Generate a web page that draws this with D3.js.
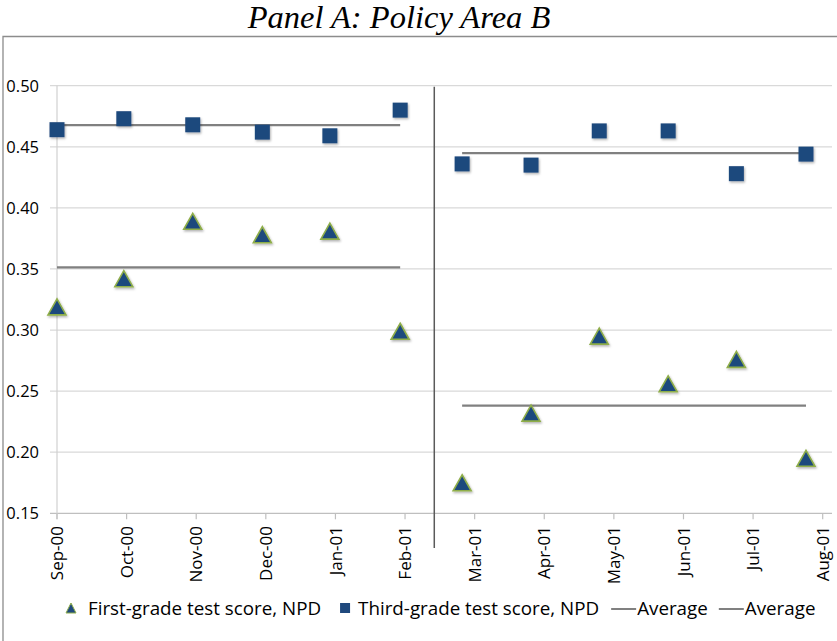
<!DOCTYPE html>
<html>
<head lang="en">
    <meta charset="UTF-8">
    <title>Panel A: Policy Area B</title>
    <script type="text/javascript" src="https://cdn.jsdelivr.net/npm/d3@7/dist/d3.min.js"></script>
    <style>
        body { margin: 0; background: #fff; }
        text { font-family: "Open Sans", sans-serif; fill: #000; }
    </style>
</head>
<body>
<div class="holder"></div>

<script>
    // month tick labels (evenly spaced, one per month)
    var months = ["Sep-00", "Oct-00", "Nov-00", "Dec-00", "Jan-01", "Feb-01",
                  "Mar-01", "Apr-01", "May-01", "Jun-01", "Jul-01", "Aug-01"];
    // where each observation falls, in month units from Sep-00
    var obsPos = [0.0, 0.96, 1.95, 2.95, 3.92, 4.93, 5.82, 6.81, 7.79, 8.78, 9.76, 10.76];
    var firstGrade = [0.319, 0.342, 0.389, 0.378, 0.381, 0.299, 0.175, 0.232, 0.295, 0.256, 0.276, 0.195];
    var thirdGrade = [0.464, 0.473, 0.468, 0.462, 0.459, 0.480, 0.436, 0.435, 0.463, 0.463, 0.428, 0.444];
    var periods = [[0, 6], [6, 12]];      // index ranges before / after the break
    var breakPos = 5.42;                   // policy change
    var yTicks = [0.15, 0.20, 0.25, 0.30, 0.35, 0.40, 0.45, 0.50];
    var legendItems = [
        {type: "tri", label: "First-grade test score, NPD"},
        {type: "sq", label: "Third-grade test score, NPD"},
        {type: "line", label: "Average"},
        {type: "line", label: "Average"}
    ];

    var W = 837, H = 641;
    var blue = "#1F497D", olive = "#8FAE4A", gray = "#808080";

    var svg = d3.select(".holder")
            .append("svg")
            .attr("width", W)
            .attr("height", H);

    var defs = svg.append("defs");
    var f = defs.append("filter").attr("id", "shadow")
            .attr("x", "-40%").attr("y", "-40%").attr("width", "180%").attr("height", "180%");
    f.append("feDropShadow").attr("dx", 1).attr("dy", 1.5).attr("stdDeviation", 1.2)
            .attr("flood-color", "#000").attr("flood-opacity", 0.3);

    // title
    svg.append("text")
            .attr("x", 399).attr("y", 28)
            .attr("text-anchor", "middle")
            .style("font-family", "'Liberation Serif', 'Times New Roman', serif")
            .style("font-style", "italic")
            .style("font-size", "32.5px")
            .text("Panel A: Policy Area B");

    // chart frame
    svg.append("path")
            .attr("d", "M3," + H + "V36.5H" + W)
            .attr("fill", "none")
            .attr("stroke", "#8c8c8c")
            .attr("stroke-width", 1.3);

    var x = d3.scaleLinear().domain([0, 11]).range([57, 822.7]);
    var y = d3.scaleLinear().domain([0.15, 0.50]).range([513.3, 85.7]);

    // horizontal grid + y labels
    svg.append("g")
            .selectAll("line")
            .data(yTicks)
            .enter()
            .append("line")
            .attr("x1", 50).attr("x2", 832)
            .attr("y1", function(d) { return y(d); })
            .attr("y2", function(d) { return y(d); })
            .attr("stroke", function(d) { return d === 0.15 ? "#bfbfbf" : "#d9d9d9"; })
            .attr("stroke-width", 1.2);

    svg.append("g")
            .selectAll("text")
            .data(yTicks)
            .enter()
            .append("text")
            .attr("x", 39)
            .attr("y", function(d) { return y(d); })
            .attr("dy", "0.36em")
            .attr("text-anchor", "end")
            .style("font-size", "16.5px")
            .text(function(d) { return d3.format(".2f")(d); });

    // y axis line
    svg.append("line")
            .attr("x1", x(0)).attr("x2", x(0))
            .attr("y1", y(0.50)).attr("y2", y(0.15) + 6)
            .attr("stroke", "#d0d0d0").attr("stroke-width", 1.2);

    // x ticks and labels
    var xg = svg.append("g");
    xg.selectAll("line")
            .data(months)
            .enter()
            .append("line")
            .attr("x1", function(d, i) { return x(i); })
            .attr("x2", function(d, i) { return x(i); })
            .attr("y1", y(0.15)).attr("y2", y(0.15) + 6)
            .attr("stroke", "#bfbfbf").attr("stroke-width", 1.2);

    xg.selectAll("text")
            .data(months)
            .enter()
            .append("text")
            .attr("transform", function(d, i) { return "translate(" + x(i) + "," + 526 + ") rotate(-90)"; })
            .attr("dy", "0.36em")
            .attr("text-anchor", "end")
            .style("font-size", "17px")
            .text(function(d) { return d; });

    // policy break line
    svg.append("line")
            .attr("x1", x(breakPos)).attr("x2", x(breakPos))
            .attr("y1", y(0.50) + 1).attr("y2", 548)
            .attr("stroke", "#5a5a5a").attr("stroke-width", 1.5);

    // period averages
    var avgs = [];
    periods.forEach(function(p) {
        [firstGrade, thirdGrade].forEach(function(s) {
            avgs.push({ x1: obsPos[p[0]], x2: obsPos[p[1] - 1], v: d3.mean(s.slice(p[0], p[1])) });
        });
    });
    svg.append("g")
            .selectAll("line")
            .data(avgs)
            .enter()
            .append("line")
            .attr("x1", function(d) { return x(d.x1); })
            .attr("x2", function(d) { return x(d.x2); })
            .attr("y1", function(d) { return y(d.v); })
            .attr("y2", function(d) { return y(d.v); })
            .attr("stroke", gray).attr("stroke-width", 2.2);

    // markers
    function tri(cx, cy, w, h) {
        return "M" + cx + "," + (cy - h / 2) + "L" + (cx + w / 2) + "," + (cy + h / 2) +
               "L" + (cx - w / 2) + "," + (cy + h / 2) + "Z";
    }

    svg.append("g")
            .selectAll("rect")
            .data(thirdGrade)
            .enter()
            .append("rect")
            .attr("x", function(d, i) { return x(obsPos[i]) - 7.5; })
            .attr("y", function(d) { return y(d) - 7.5; })
            .attr("width", 15).attr("height", 15)
            .attr("fill", blue)
            .attr("filter", "url(#shadow)");

    svg.append("g")
            .selectAll("path")
            .data(firstGrade)
            .enter()
            .append("path")
            .attr("d", function(d, i) { return tri(x(obsPos[i]), y(d), 18, 16); })
            .attr("fill", blue)
            .attr("stroke", olive).attr("stroke-width", 1.6)
            .attr("stroke-linejoin", "miter")
            .attr("filter", "url(#shadow)");

    // legend, laid out left to right from measured text widths
    var lg = svg.append("g").style("font-size", "18.8px");
    var ly = 615, lx = 66;
    legendItems.forEach(function(it, i) {
        var symW, gap;
        if (it.type === "tri") {
            lg.append("path").attr("d", tri(lx + 5, ly - 7, 10, 10))
                    .attr("fill", blue).attr("stroke", olive).attr("stroke-width", 1);
            symW = 22; gap = 19;
        } else if (it.type === "sq") {
            lg.append("rect").attr("x", lx).attr("y", ly - 12).attr("width", 10).attr("height", 10)
                    .attr("fill", blue);
            symW = 18; gap = 12;
        } else {
            lg.append("line").attr("x1", lx).attr("x2", lx + 25)
                    .attr("y1", ly - 6).attr("y2", ly - 6)
                    .attr("stroke", gray).attr("stroke-width", 2);
            symW = 26; gap = 11;
        }
        var t = lg.append("text").attr("x", lx + symW).attr("y", ly).text(it.label);
        lx += symW + t.node().getComputedTextLength() + gap;
    });
</script>
</body>
</html>
